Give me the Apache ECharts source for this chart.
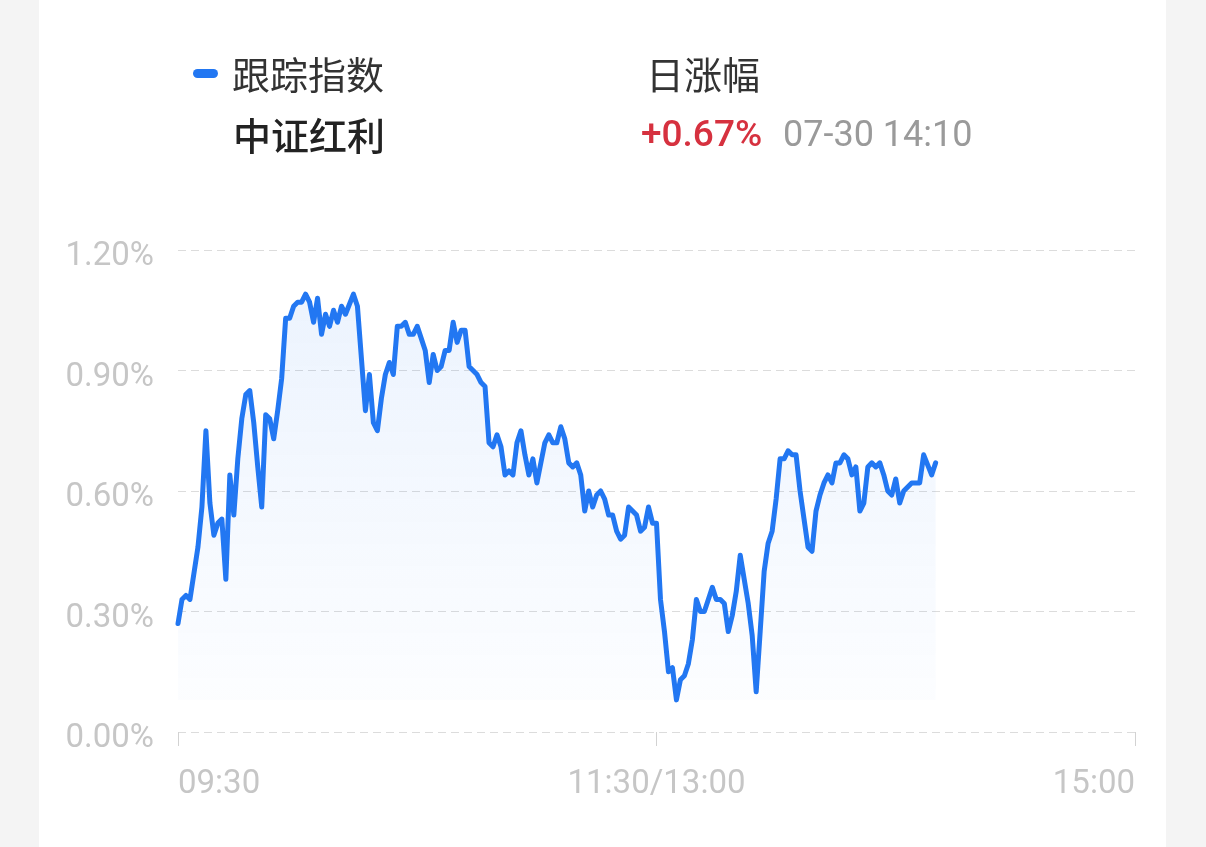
<!DOCTYPE html>
<html>
<head>
<meta charset="utf-8">
<title>中证红利 日涨幅</title>
<script src="https://cdn.jsdelivr.net/npm/echarts@6/dist/echarts.min.js"></script>
<style>
    html, body { margin: 0; padding: 0; background: #f4f4f4; }
    #card { position: absolute; left: 39px; top: 0; width: 1127px; height: 847px; background: #fff; }
    #main { width: 1127px; height: 847px; }
</style>
</head>
<body>
<div id="card"><div id="main"></div></div>
<script>
// 跟踪指数 中证红利, 07-30 分时涨幅(%), 横轴为开盘后的交易分钟
var seriesName = '跟踪指数'
var indexName = '中证红利'
var changeText = '+0.67%'
var timeText = '07-30 14:10'

var minutes = [
    0, 1, 2, 3, 5, 6, 7, 8, 9, 10, 11, 12, 13, 14, 15, 16, 17, 18, 19, 20,
    21, 22, 23, 24, 25, 26, 27, 28, 29, 30, 31, 32, 33, 34, 35, 36, 37, 38, 39, 40,
    41, 42, 44, 45, 46, 47, 48, 49, 50, 51, 52, 53, 54, 55, 56, 57, 58, 59, 60,
    61, 62, 63, 64, 65, 66, 67, 68, 69, 70, 71, 72, 73, 74, 75, 76, 77, 78, 79, 80,
    81, 82, 83, 84, 85, 86, 87, 88, 89, 90, 91, 92, 93, 94, 95, 96, 97, 98, 99, 100,
    101, 102, 103, 104, 105, 106, 107, 108, 109, 110, 111, 112, 113, 114, 115, 116, 117, 118, 119, 120,
    121, 122, 123, 124, 125, 126, 127, 128, 129, 130, 131, 132, 133, 134, 135, 136, 137, 138, 139, 140,
    141, 142, 143, 144, 145, 146, 147, 148, 149, 150, 151, 152, 153, 154, 155, 156, 157, 158, 159, 160,
    161, 162, 163, 164, 165, 166, 167, 168, 169, 170, 171, 172, 173, 174, 175, 176, 177, 178, 179, 180,
    181, 182, 183, 184, 185, 186, 187, 188, 189, 190
]
var changes = [
    0.27, 0.33, 0.34, 0.33, 0.46, 0.56, 0.75, 0.57, 0.49, 0.52, 0.53, 0.38, 0.64, 0.54, 0.68, 0.78, 0.84, 0.85, 0.77, 0.66,
    0.56, 0.79, 0.78, 0.73, 0.80, 0.88, 1.03, 1.03, 1.06, 1.07, 1.07, 1.09, 1.07, 1.02, 1.08, 0.99, 1.04, 1.01, 1.05, 1.02,
    1.06, 1.04, 1.09, 1.06, 0.93, 0.80, 0.89, 0.77, 0.75, 0.83, 0.89, 0.92, 0.89, 1.01, 1.01, 1.02, 0.99, 0.99, 1.01,
    0.98, 0.95, 0.87, 0.94, 0.90, 0.91, 0.95, 0.95, 1.02, 0.97, 1.00, 1.00, 0.91, 0.90, 0.89, 0.87, 0.86, 0.72, 0.71, 0.74,
    0.71, 0.64, 0.65, 0.64, 0.72, 0.75, 0.69, 0.64, 0.68, 0.62, 0.67, 0.72, 0.74, 0.72, 0.72, 0.76, 0.73, 0.67, 0.66, 0.67,
    0.64, 0.55, 0.60, 0.56, 0.59, 0.60, 0.58, 0.54, 0.54, 0.50, 0.48, 0.49, 0.56, 0.55, 0.54, 0.50, 0.51, 0.56, 0.52, 0.52,
    0.33, 0.25, 0.15, 0.16, 0.08, 0.13, 0.14, 0.17, 0.23, 0.33, 0.30, 0.30, 0.33, 0.36, 0.33, 0.33, 0.32, 0.25, 0.29, 0.35,
    0.44, 0.38, 0.32, 0.24, 0.10, 0.25, 0.40, 0.47, 0.50, 0.58, 0.68, 0.68, 0.70, 0.69, 0.69, 0.60, 0.53, 0.46, 0.45, 0.55,
    0.59, 0.62, 0.64, 0.62, 0.67, 0.67, 0.69, 0.68, 0.64, 0.66, 0.55, 0.57, 0.66, 0.67, 0.66, 0.67, 0.64, 0.60, 0.59, 0.63,
    0.57, 0.60, 0.61, 0.62, 0.62, 0.62, 0.69, 0.665, 0.64, 0.67
]
var xTickLabels = ['09:30', '11:30/13:00', '15:00']  // 0, 120, 240 分钟
var yMin = 0, yMax = 1.2, yStep = 0.3

var lineColor = '#2277f2'
var numFont = 'Roboto, "Noto Sans", sans-serif'
var cnFont = '"Noto Sans CJK SC", "Noto Sans", sans-serif'

var chart = echarts.init(document.getElementById('main'))

var points = minutes.map(function (m, i) { return [m, changes[i]] })
var lowest = Math.min.apply(null, changes)

chart.setOption({
    animation: false,
    grid: { left: 139, right: 31, top: 250, bottom: 115 },
    graphic: [
        { type: 'rect', shape: { x: 154, y: 69, width: 25, height: 9, r: 4.5 }, style: { fill: lineColor } },
        { type: 'text', style: { x: 193, y: 75, text: seriesName, font: '38px ' + cnFont, fill: '#333', verticalAlign: 'middle' } },
        { type: 'text', style: { x: 194, y: 136, text: indexName, font: '500 38px ' + cnFont, fill: '#222', verticalAlign: 'middle' } },
        { type: 'text', style: { x: 607, y: 75, text: '日涨幅', font: '38px ' + cnFont, fill: '#333', verticalAlign: 'middle' } },
        { type: 'text', style: { x: 602, y: 137, text: changeText, font: '500 37px ' + numFont, fill: '#d6313f', verticalAlign: 'middle' } },
        { type: 'text', style: { x: 744, y: 137, text: timeText, font: '36px ' + numFont, fill: '#9a9a9a', verticalAlign: 'middle' } }
    ],
    xAxis: {
        type: 'value',
        min: 0,
        max: 240,
        interval: 120,
        axisLine: { show: false },
        axisTick: { show: true, length: 14, lineStyle: { color: '#d2d2d2', width: 1 } },
        splitLine: { show: false },
        axisLabel: {
            margin: 36,
            fontSize: 33,
            fontFamily: numFont,
            color: '#c6c6c6',
            alignMinLabel: 'left',
            alignMaxLabel: 'right',
            formatter: function (v) { return xTickLabels[Math.round(v / 120)] }
        }
    },
    yAxis: {
        type: 'value',
        min: yMin,
        max: yMax,
        interval: yStep,
        axisLine: { show: false },
        axisTick: { show: false },
        splitLine: { show: true, lineStyle: { color: '#dcdcdc', width: 1, type: [8, 5] } },
        axisLabel: {
            margin: 24,
            fontSize: 33,
            fontFamily: numFont,
            color: '#c6c6c6',
            verticalAlign: 'top',
            lineHeight: 14,
            formatter: function (v) { return v.toFixed(2) + '%' }
        }
    },
    series: [{
        name: seriesName,
        type: 'line',
        data: points,
        showSymbol: false,
        lineStyle: { color: lineColor, width: 5, join: 'round', cap: 'round' },
        areaStyle: {
            origin: lowest,
            color: new echarts.graphic.LinearGradient(0, 0, 0, 1, [
                { offset: 0, color: 'rgba(34,119,242,0.12)' },
                { offset: 1, color: 'rgba(34,119,242,0.02)' }
            ])
        }
    }]
})
</script>
</body>
</html>
